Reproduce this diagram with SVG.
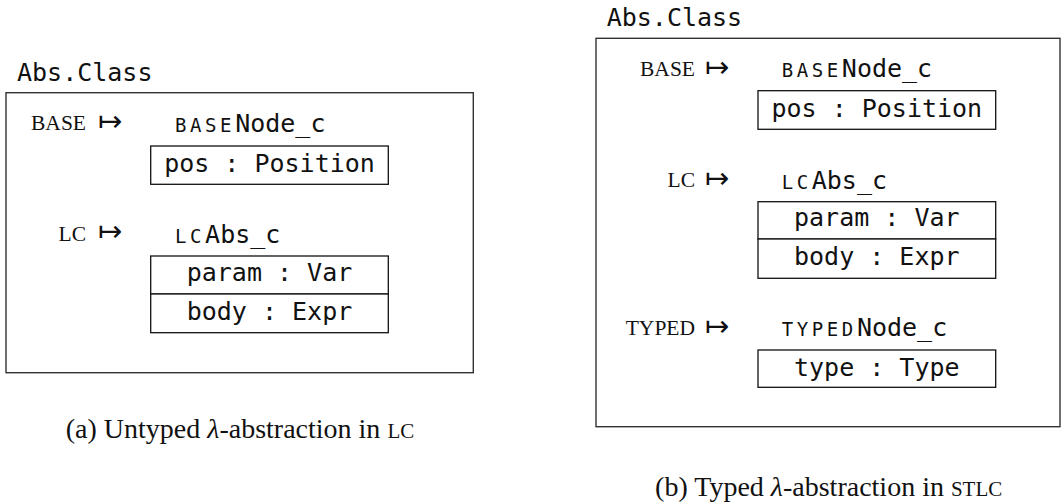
<svg xmlns="http://www.w3.org/2000/svg" width="1061" height="504" viewBox="0 0 1061 504">
<style>
.mono{font-family:"DejaVu Sans Mono","Liberation Mono",monospace;font-size:25px;fill:#111}
.sc{font-size:19px;letter-spacing:3.6px}
.lbl{font-family:"Liberation Serif","DejaVu Serif",serif;font-size:21.5px;fill:#111;text-anchor:end}
.arr{font-family:"DejaVu Sans",sans-serif;font-size:29px;fill:#111}
.cap{font-family:"Liberation Serif","DejaVu Serif",serif;font-size:28px;fill:#111;text-anchor:middle}
.capsc{font-size:21px}
.outer{fill:none;stroke:#333;stroke-width:1.4}
.field{fill:#fff;stroke:#111;stroke-width:1.3}
.ftxt{text-anchor:middle}
</style>
<rect width="1061" height="504" fill="#fff"/>

<g id="panel-a">
  <text class="mono" x="17" y="80.7">Abs.Class</text>
  <rect class="outer" x="6" y="92.7" width="467.3" height="280"/>
  <g id="a-base">
    <text class="lbl" x="86" y="130">BASE</text>
    <text class="arr" x="98" y="130.5">↦</text>
    <text class="mono" x="175" y="131.7"><tspan class="sc">BASE</tspan>Node_c</text>
    <rect class="field" x="150.7" y="146" width="237.6" height="38.3"/>
    <text class="mono ftxt" x="269.5" y="172.3">pos : Position</text>
  </g>
  <g id="a-lc">
    <text class="lbl" x="86" y="240.7">LC</text>
    <text class="arr" x="98" y="241.2">↦</text>
    <text class="mono" x="175" y="242.7"><tspan class="sc">LC</tspan>Abs_c</text>
    <rect class="field" x="150.7" y="256" width="237.6" height="38"/>
    <rect class="field" x="150.7" y="294" width="237.6" height="38.7"/>
    <text class="mono ftxt" x="269.5" y="280.7">param : Var</text>
    <text class="mono ftxt" x="269.5" y="320">body : Expr</text>
  </g>
  <text class="cap" x="240" y="438">(a) Untyped <tspan font-style="italic">λ</tspan>-abstraction in <tspan class="capsc">LC</tspan></text>
</g>

<g id="panel-b">
  <text class="mono" x="606.7" y="26">Abs.Class</text>
  <rect class="outer" x="596" y="38.3" width="464" height="388.4"/>
  <g id="b-base">
    <text class="lbl" x="695" y="76">BASE</text>
    <text class="arr" x="705" y="76.5">↦</text>
    <text class="mono" x="781.7" y="77"><tspan class="sc">BASE</tspan>Node_c</text>
    <rect class="field" x="758" y="90.7" width="237.7" height="38.6"/>
    <text class="mono ftxt" x="876.8" y="116.8">pos : Position</text>
  </g>
  <g id="b-lc">
    <text class="lbl" x="695" y="187.3">LC</text>
    <text class="arr" x="705" y="187.8">↦</text>
    <text class="mono" x="781.7" y="189"><tspan class="sc">LC</tspan>Abs_c</text>
    <rect class="field" x="758" y="201.7" width="237.7" height="37.3"/>
    <rect class="field" x="758" y="239" width="237.7" height="39.3"/>
    <text class="mono ftxt" x="876.8" y="226.4">param : Var</text>
    <text class="mono ftxt" x="876.8" y="265">body : Expr</text>
  </g>
  <g id="b-typed">
    <text class="lbl" x="695" y="335">TYPED</text>
    <text class="arr" x="705" y="335.5">↦</text>
    <text class="mono" x="781.7" y="336"><tspan class="sc">TYPED</tspan>Node_c</text>
    <rect class="field" x="758" y="350" width="237.7" height="37.3"/>
    <text class="mono ftxt" x="876.8" y="376">type : Type</text>
  </g>
  <text class="cap" x="828.7" y="496">(b) Typed <tspan font-style="italic">λ</tspan>-abstraction in <tspan class="capsc">STLC</tspan></text>
</g>

<g id="connectors"/>
</svg>
